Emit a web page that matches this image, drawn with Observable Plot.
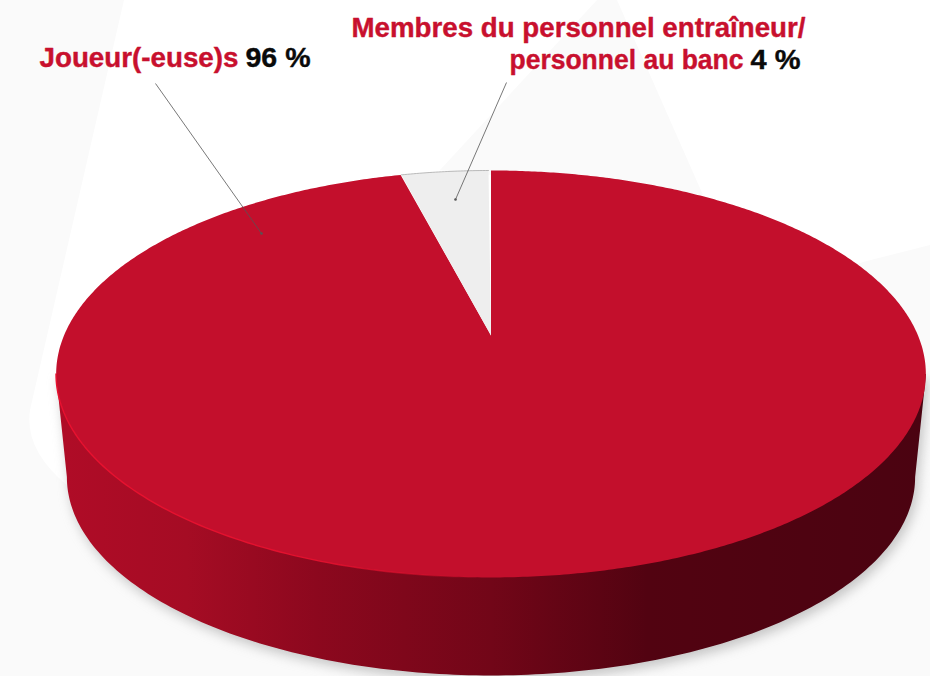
<!DOCTYPE html>
<html lang="fr">
<head>
<meta charset="utf-8">
<script src="https://cdn.jsdelivr.net/npm/d3@7"></script>
<script src="https://cdn.jsdelivr.net/npm/@observablehq/plot@0.6"></script>
<style>
  html, body { margin: 0; padding: 0; width: 930px; height: 676px; overflow: hidden; background: #fafafa; }
  #stage { position: relative; width: 930px; height: 676px; }
  .bg { position: absolute; inset: 0; }
  #white { background: #fff; clip-path: path("M124 0 L30 410 Q24 450 68 486 L490 400 L863 262 L930 245 L930 0 Z"); }
  #peak { background: #fafafa; clip-path: path("M597 0 L617 0 L703 195 L440 170 Z"); }
  #chart { position: absolute; inset: 0; }
</style>
</head>
<body>
<div id="stage">
  <div class="bg" id="white"></div>
  <div class="bg" id="peak"></div>
  <div id="chart"></div>
</div>
<script>
// ---- data
const categories = ["Membres du personnel entraîneur/personnel au banc", "Joueur(-euse)s"];
const shares = [4, 96];
const sliceColors = ["#eeeeee", "#c30f2c"];

// ---- label text
const labelTexts = ["Joueur(-euse)s", "96 %", "Membres du personnel entraîneur/", "personnel au banc", "4 %"];
const labelColors = ["#c8102e", "#0a0a0a", "#c8102e", "#c8102e", "#0a0a0a"];
const labelLeft = [39, 245, 351, 509, 750];
const labelBaseline = [67, 67, 37, 69, 69];
const labelWidth = [199, 65, 454, 234, 50];

// ---- layout of the perspective disc
const cx = 490.5, apexY = 335;
const a = 196.2, b = 427, k = 0.189;      // projective camera
const ellipseCy = 373.5, ellipseRy = 203.5, ellipseRx = 435;
const baseScale = 0.975, baseDrop = 104;

const project = (theta, r = 1) => {
  const u = r * Math.sin(theta), v = r * Math.cos(theta), d = 1 + k * v;
  return [cx + b * u / d, apexY - a * v / d];
};
const rad = (deg) => deg * Math.PI / 180;

// Slices: clockwise from the top, the large one first, the small one closing the circle.
let start = 0;
const slicePoints = [];
[1, 0].forEach((i) => {
  const end = start + shares[i] * 3.6;
  slicePoints.push({x: cx, y: apexY, name: categories[i]});
  for (let d = start; d <= end + 1e-6; d += 0.5) {
    const [x, y] = project(rad(d));
    slicePoints.push({x, y, name: categories[i]});
  }
  start = end;
});

// Ellipse helpers for the wall
const ellipse = (t, s, drop) => ({
  x: cx + ellipseRx * s * Math.cos(t),
  y: apexY + drop + (ellipseCy - apexY) * s + ellipseRy * s * Math.sin(t)
});
const steps = d3.range(0, 180.5, 1);
const wall = [ellipse(0, 1, 0), ...steps.map(d => ellipse(rad(d), baseScale, baseDrop)), ellipse(Math.PI, 1, 0)];
const rimArc = d3.range(92, 180.5, 1).map(d => ellipse(rad(d), 1, 0));
const smallArc = slicePoints.filter(p => p.name === categories[0] && p.y < 200);

const leaders = [
  {x1: 155, y1: 83, x2: 261, y2: 233},
  {x1: 506, y1: 82, x2: 455, y2: 199}
];
const labels = labelTexts.map((text, i) => ({text, color: labelColors[i], x: labelLeft[i], y: labelBaseline[i] - 9}));

const wallGradient = () => {
  const ns = "http://www.w3.org/2000/svg";
  const defs = document.createElementNS(ns, "defs");
  const mk = (id, stops, x1, x2) => {
    const g = document.createElementNS(ns, "linearGradient");
    g.setAttribute("id", id);
    g.setAttribute("gradientUnits", "userSpaceOnUse");
    g.setAttribute("x1", x1); g.setAttribute("x2", x2);
    g.setAttribute("y1", 0); g.setAttribute("y2", 0);
    stops.forEach(([o, c, op]) => {
      const s = document.createElementNS(ns, "stop");
      s.setAttribute("offset", o); s.setAttribute("stop-color", c);
      if (op != null) s.setAttribute("stop-opacity", op);
      g.appendChild(s);
    });
    defs.appendChild(g);
  };
  mk("wall", [[0, "#b00c27"], [0.15, "#a50c24"], [0.3, "#8c081e"], [0.5, "#720618"], [0.68, "#520311"], [1, "#4b0311"]], 56, 925);
  mk("rim", [[0, "#e8112f", 1], [0.6, "#e8112f", 0.9], [1, "#e8112f", 0]], 56, 490);
  return defs;
};

const chart = Plot.plot({
  width: 930,
  height: 676,
  margin: 0,
  x: {domain: [0, 930], range: [0, 930], axis: null},
  y: {domain: [0, 676], range: [0, 676], axis: null},
  style: {background: "transparent"},
  marks: [
    wallGradient,
    Plot.line(wall, {x: "x", y: "y", fill: "#999999", stroke: "none", fillOpacity: 0.55, dx: 3, dy: 5, imageFilter: "blur(6px)"}),
    Plot.line(wall, {x: "x", y: "y", fill: "url(#wall)", stroke: "none"}),
    Plot.line(slicePoints, {x: "x", y: "y", z: "name", stroke: "none", fill: d => sliceColors[categories.indexOf(d.name)]}),
    Plot.line(rimArc, {x: "x", y: "y", stroke: "url(#rim)", strokeWidth: 1.4}),
    Plot.line(smallArc, {x: "x", y: "y", stroke: "#aaaaaa", strokeWidth: 0.8}),
    Plot.link(leaders, {x1: "x1", y1: "y1", x2: "x2", y2: "y2", stroke: "#555555", strokeWidth: 0.8}),
    Plot.dot(leaders, {x: "x2", y: "y2", r: 1.3, fill: "#555555", stroke: "none"}),
    Plot.text(labels, {
      x: "x", y: "y", text: "text", fill: "color", stroke: "color", strokeWidth: 0.4, textAnchor: "start",
      fontFamily: "'Liberation Sans', sans-serif", fontWeight: 700, fontSize: 27.5
    })
  ]
});
chart.querySelectorAll("text").forEach((t) => {
  const i = labelTexts.indexOf(t.textContent);
  if (i >= 0) {
    t.setAttribute("textLength", labelWidth[i]);
    t.setAttribute("lengthAdjust", "spacingAndGlyphs");
  }
});
document.getElementById("chart").appendChild(chart);
</script>
</body>
</html>
